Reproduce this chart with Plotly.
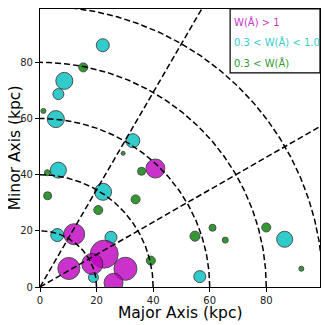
import numpy as np
import plotly.graph_objects as go

# W > 1 (magenta)
mag_x = [12.1, 22.7, 18.5, 10.2, 30.2, 26.0, 40.8]
mag_y = [18.8, 11.7, 8.2, 6.6, 6.5, 1.5, 42.2]
mag_s = [21, 28, 21, 22, 23, 19, 19]

# 0.3 < W < 1.0 (cyan)
cyan_x = [22.3, 6.1, 25.1, 18.9, 22.2, 8.6, 6.5, 5.6, 32.8, 6.5, 56.5, 86.5]
cyan_y = [33.9, 18.5, 17.7, 3.4, 86.1, 73.4, 68.7, 59.8, 52.1, 41.6, 3.7, 17.0]
cyan_s = [17, 13, 12, 10, 13, 17, 11, 17, 14, 16, 12, 16]

# W < 0.3 (green)
grn_x = [2.7, 33.8, 20.6, 39.2, 15.3, 1.2, 29.4, 2.6, 35.9, 54.8, 61.0, 65.5, 80.0, 92.4]
grn_y = [32.5, 31.2, 27.4, 9.4, 78.2, 62.7, 47.6, 40.7, 41.2, 18.1, 21.1, 16.7, 21.2, 6.5]
grn_s = [8, 9, 9, 9, 9, 5, 4, 6, 8, 10, 7, 6, 9, 5]

radii = [20, 40, 60, 80, 100]
angles = [30, 60]
ticks = [0, 20, 40, 60, 80]

fig = go.Figure()

for xs, ys, ss, col in [(grn_x, grn_y, grn_s, "#008000"),
                        (cyan_x, cyan_y, cyan_s, "#00bfbf"),
                        (mag_x, mag_y, mag_s, "#bf00bf")]:
    fig.add_trace(go.Scatter(
        x=xs, y=ys, mode="markers",
        marker=dict(size=ss, color=col, opacity=0.8,
                    line=dict(color="#222222", width=1)),
        showlegend=False, hoverinfo="skip"))

th = np.linspace(0, np.pi / 2, 200)
for r in radii:
    fig.add_trace(go.Scatter(x=r * np.cos(th), y=r * np.sin(th), mode="lines",
                             line=dict(color="black", width=1.5, dash="6px,3px"),
                             showlegend=False, hoverinfo="skip"))
for a in angles:
    t = np.radians(a)
    fig.add_trace(go.Scatter(x=[0, 200 * np.cos(t)], y=[0, 200 * np.sin(t)], mode="lines",
                             line=dict(color="black", width=1.5, dash="6px,3px"),
                             showlegend=False, hoverinfo="skip"))

# legend box
fig.add_shape(type="rect", xref="paper", yref="paper", x0=0.679, x1=1.0, y0=0.77, y1=1.0,
              line=dict(color="black", width=1.2), fillcolor="white", layer="above")
labels = [("W(Å) > 1", "#cc33cc", 0.953),
          ("0.3 < W(Å) < 1.0", "#33cccc", 0.881),
          ("0.3 < W(Å)", "#339933", 0.806)]
for txt, col, yy in labels:
    fig.add_annotation(text=txt, xref="paper", yref="paper", x=0.684, y=yy,
                       xanchor="left", yanchor="middle", showarrow=False,
                       font=dict(size=10, color=col))

# axis titles
fig.add_annotation(text="Major Axis (kpc)", xref="paper", yref="paper", x=0.5, y=-0.093,
                   xanchor="center", yanchor="middle", showarrow=False,
                   font=dict(size=15.5, color="black"))
fig.add_annotation(text="Minor Axis (kpc)", xref="paper", yref="paper", x=-0.088, y=0.5,
                   xanchor="center", yanchor="middle", showarrow=False, textangle=-90,
                   font=dict(size=15.5, color="black"))

axis_style = dict(range=[0, 99], tickvals=ticks, showgrid=False, zeroline=False,
                  showline=True, linecolor="black", linewidth=1.2, mirror=True,
                  ticks="outside", ticklen=4, tickcolor="black", automargin=False,
                  tickfont=dict(size=10, color="#222"))
fig.update_xaxes(**axis_style)
fig.update_yaxes(**axis_style)

# page body adds an 8px offset, so the figure is sized to fit inside the window
fig.update_layout(width=321, height=317, margin=dict(l=32, r=9, t=1, b=38),
                  plot_bgcolor="white", paper_bgcolor="white",
                  font=dict(family="DejaVu Sans"))
fig.write_html("out.html")
